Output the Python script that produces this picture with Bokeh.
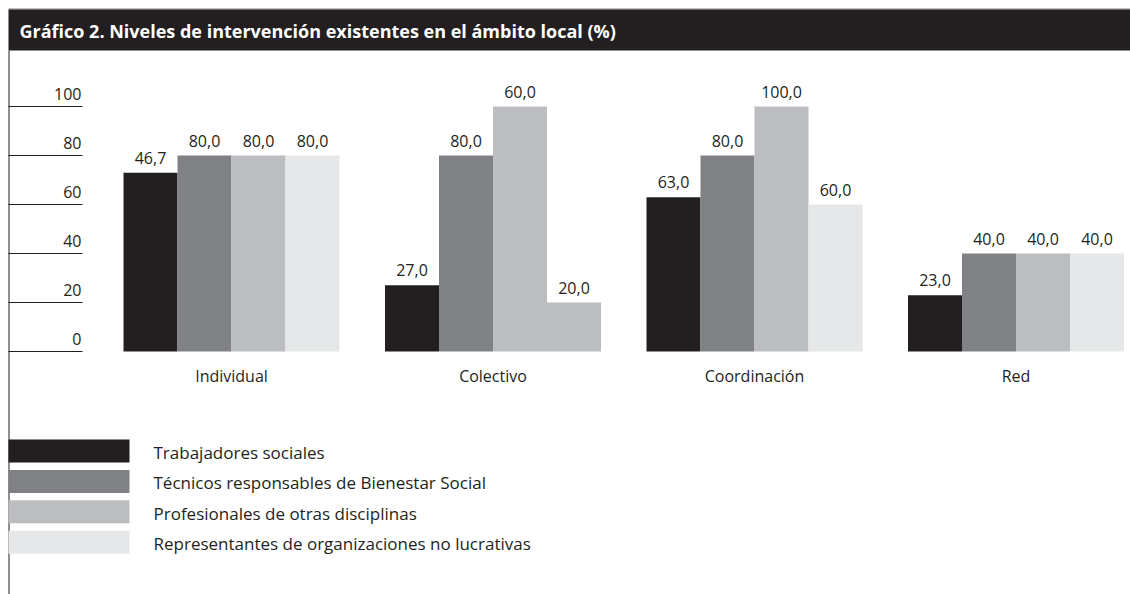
from bokeh.plotting import figure
from bokeh.models import Range1d, ColumnDataSource
from bokeh.core.properties import value
from bokeh.embed import file_html
from bokeh.resources import INLINE

# ---------------- data ----------------
title = "Gráfico 2. Niveles de intervención existentes en el ámbito local (%)"
categories = ["Individual", "Colectivo", "Coordinación", "Red"]
series_names = [
    "Trabajadores sociales",
    "Técnicos responsables de Bienestar Social",
    "Profesionales de otras disciplinas",
    "Representantes de organizaciones no lucrativas",
]
# bar heights as drawn in the picture
trabajadores = [73, 27, 63, 23]
tecnicos = [80, 80, 80, 40]
profesionales = [80, 100, 100, 40]
representantes = [80, 20, 60, 40]
# printed value labels
lab_trabajadores = ["46,7", "27,0", "63,0", "23,0"]
lab_tecnicos = ["80,0", "80,0", "80,0", "40,0"]
lab_profesionales = ["80,0", "60,0", "100,0", "40,0"]
lab_representantes = ["80,0", "20,0", "60,0", "40,0"]
tick_values = [0, 20, 40, 60, 80, 100]
tick_labels = ["0", "20", "40", "60", "80", "100"]

# ---------------- style ----------------
colors = ["#231f20", "#808184", "#bcbdc0", "#e6e7e8"]
color_override = {(3, 1): "#bcbdc0"}  # (series, category) drawn in another grey
FONT = value("Open Sans")
INK = "#231f20"
DY = 7               # baseline correction for text rendering

W, H = 1130, 594
Y0_PX = 351          # canvas y of value 0
PX_PER_UNIT = 2.45
GROUP_PX = 261.5
FIRST_CENTER_PX = 231
BAR_PX = 54
LEFT = 8

x_start = -FIRST_CENTER_PX / GROUP_PX
x_end = x_start + W / GROUP_PX
y_end = Y0_PX / PX_PER_UNIT
y_start = -(H - Y0_PX) / PX_PER_UNIT
BW = BAR_PX / GROUP_PX

p = figure(width=W, height=H, output_backend="svg", toolbar_location=None,
           tools="", x_axis_location=None, y_axis_location=None, min_border=0,
           x_range=Range1d(x_start, x_end), y_range=Range1d(y_start, y_end))
p.extra_x_ranges = {"px": Range1d(0, W)}
p.extra_y_ranges = {"py": Range1d(H, 0)}
p.outline_line_color = None
p.background_fill_color = "white"
p.border_fill_color = "white"
p.grid.visible = False

# header
p.segment(x0=[LEFT], x1=[W], y0=[8.5], y1=[8.5], line_color="#a7a9ac", line_width=1.5,
          x_range_name="px", y_range_name="py")
p.quad(left=[LEFT], right=[W], top=[9], bottom=[50], fill_color=INK, line_color=None,
       x_range_name="px", y_range_name="py")
p.text(x=[19], y=[37 - DY], text=[title], text_color="white", text_font=FONT,
       text_font_size="18px", text_font_style="bold", text_baseline="alphabetic",
       x_range_name="px", y_range_name="py")

# left rule
p.segment(x0=[LEFT + 0.5], x1=[LEFT + 0.5], y0=[50], y1=[H], line_color=INK,
          line_width=1, x_range_name="px", y_range_name="py")

# y ticks
n = len(tick_values)
p.segment(x0=[LEFT] * n, x1=[82] * n, y0=tick_values, y1=tick_values,
          line_color=INK, line_width=1, x_range_name="px")
p.text(x=[81] * n, y=tick_values, text=tick_labels, text_align="right",
       text_baseline="alphabetic", y_offset=-6 - DY, text_font=FONT,
       text_font_size="16px", text_color=INK, x_range_name="px")

# bars
all_vals = [trabajadores, tecnicos, profesionales, representantes]
all_labs = [lab_trabajadores, lab_tecnicos, lab_profesionales, lab_representantes]
for j, (vals, labs) in enumerate(zip(all_vals, all_labs)):
    xs = [i + (j - 1.5) * BW for i in range(len(categories))]
    cols = [color_override.get((j, i), colors[j]) for i in range(len(categories))]
    src = ColumnDataSource(dict(x=xs, top=vals, lab=labs, col=cols))
    p.vbar(x="x", top="top", bottom=0, width=BW, fill_color="col", line_color=None,
           source=src)
    p.text(x="x", y="top", text="lab", source=src, text_align="center",
           text_baseline="alphabetic", y_offset=-8 - DY, text_font=FONT,
           text_font_size="16px", text_color=INK)

# category labels
p.text(x=list(range(len(categories))), y=[0] * len(categories), text=categories,
       text_align="center", text_baseline="alphabetic", y_offset=31 - DY,
       text_font=FONT, text_font_size="16px", text_color=INK)

# legend
for k, name in enumerate(series_names):
    top = 439 + 30.4 * k
    p.quad(left=[LEFT], right=[129], top=[top], bottom=[top + 23], fill_color=colors[k],
           line_color=None, x_range_name="px", y_range_name="py")
    p.text(x=[153], y=[top + 20 - DY], text=[name], text_baseline="alphabetic",
           text_font=FONT, text_font_size="17px", text_color=INK,
           x_range_name="px", y_range_name="py")

open("out.html", "w").write(file_html(p, INLINE))
